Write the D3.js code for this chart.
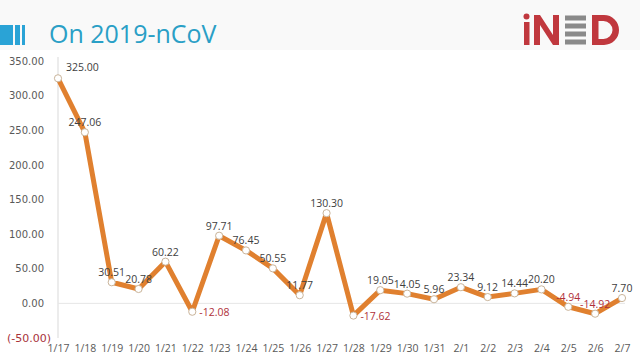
<!DOCTYPE html>
<html><head><meta charset="utf-8">
<script src="https://cdn.jsdelivr.net/npm/d3@7"></script>
<style>body{margin:0;background:#fff;}svg{display:block;}</style>
</head><body>
<svg id="c" width="640" height="360"></svg>
<script>
const categories = ["1/17","1/18","1/19","1/20","1/21","1/22","1/23","1/24","1/25","1/26","1/27","1/28","1/29","1/30","1/31","2/1","2/2","2/3","2/4","2/5","2/6","2/7"];
const values = [325.00,247.06,30.51,20.78,60.22,-12.08,97.71,76.45,50.55,11.77,130.30,-17.62,19.05,14.05,5.96,23.34,9.12,14.44,20.20,-4.94,-14.92,7.70];
const yTicks = [-50,0,50,100,150,200,250,300,350];
const title = "On 2019-nCoV";

const fmt = d3.formatLocale({decimal:".",thousands:",",grouping:[3],currency:["",""],minus:"-"}).format(".2f");

const svg = d3.select("#c");
const x = d3.scalePoint().domain(categories).range([58,622]);
const y = d3.scaleLinear().domain([-50,350]).range([338,61]);

// header
svg.append("rect").attr("x",0).attr("y",0).attr("width",640).attr("height",50).attr("fill","#f9f9f9");
svg.append("rect").attr("x",0).attr("y",25).attr("width",13).attr("height",20).attr("fill","#2aa3d6");
svg.append("rect").attr("x",15).attr("y",25).attr("width",5).attr("height",20).attr("fill","#2aa3d6");
svg.append("rect").attr("x",22).attr("y",25).attr("width",3).attr("height",20).attr("fill","#2aa3d6");
svg.append("text").attr("x",49).attr("y",43).text(title)
  .attr("font-family","Open Sans, sans-serif").attr("font-size",25).attr("fill","#2a9fc6");
// logo
const logo = svg.append("g").attr("transform","translate(523,13)");
logo.append("circle").attr("cx",3.5).attr("cy",3.5).attr("r",3).attr("fill","#c0383e");
logo.append("rect").attr("x",1).attr("y",9).attr("width",5.5).attr("height",23).attr("fill","#c0383e");
logo.append("path").attr("d","M11,2 h6 l13,20 v-20 h6 v30 h-6 l-13,-20 v20 h-6 z").attr("fill","#c0383e");
[2,10,18,26].forEach(o=>logo.append("rect").attr("x",42).attr("y",o+0.5).attr("width",21).attr("height",5).attr("fill","#8a8a8a"));
logo.append("path").attr("d","M69,2 h12 a15,15 0 0 1 0,30 h-12 z M75.5,8 v18 h5 a9,9 0 0 0 0,-18 z").attr("fill","#c0383e").attr("fill-rule","evenodd");

// axes
svg.append("line").attr("x1",58).attr("x2",58).attr("y1",y(350)-4).attr("y2",y(-50)).attr("stroke","#d9d9d9");
svg.append("line").attr("x1",58).attr("x2",625).attr("y1",y(0)).attr("y2",y(0)).attr("stroke","#e6e6e6");

const yAxis = svg.append("g").attr("transform","translate(44,0)")
  .call(d3.axisLeft(y).tickValues(yTicks).tickSize(0).tickPadding(0)
    .tickFormat(d => d<0 ? "(" + fmt(d) + ")" : fmt(d)));
yAxis.select(".domain").remove();
yAxis.selectAll("text").attr("font-family","Verdana, DejaVu Sans, sans-serif").attr("font-size",10)
  .attr("fill",d=>d<0?"#a8323a":"#595959")
  .attr("dx",d=>d<0?7:0).attr("font-size",d=>d<0?11:10);

const xAxis = svg.append("g").attr("transform","translate(0,345)")
  .call(d3.axisBottom(x).tickSize(0).tickPadding(0));
xAxis.select(".domain").remove();
xAxis.selectAll("text").attr("font-family","Open Sans, sans-serif").attr("font-size",10.5).attr("fill","#595959");

// line
const line = d3.line().x((d,i)=>x(categories[i])).y(d=>y(d));
svg.append("path").datum(values).attr("d",line).attr("fill","none")
  .attr("stroke","#e0802f").attr("stroke-width",5).attr("stroke-linejoin","round");
svg.selectAll("circle.pt").data(values).enter().append("circle").attr("class","pt")
  .attr("cx",(d,i)=>x(categories[i])).attr("cy",d=>y(d)).attr("r",3.6)
  .attr("fill","#fff").attr("stroke","#c9b49a").attr("stroke-width",1);

// labels
svg.selectAll("text.lbl").data(values).enter().append("text").attr("class","lbl")
  .each(function(d,i){
    const px = x(categories[i]), py = y(d);
    const t = d3.select(this);
    if(i===0){ t.attr("x",px+8).attr("y",py-7).attr("text-anchor","start"); }
    else if(d < -10 && i<15){ t.attr("x",px+7).attr("y",py+4).attr("text-anchor","start"); }
    else { t.attr("x",px).attr("y",py-6).attr("text-anchor","middle"); }
  })
  .text(d=>fmt(d))
  .attr("font-family","Open Sans, sans-serif").attr("font-size",10.5)
  .attr("fill",d=>d<0?"#b0303a":"#404040");
</script>
</body></html>
